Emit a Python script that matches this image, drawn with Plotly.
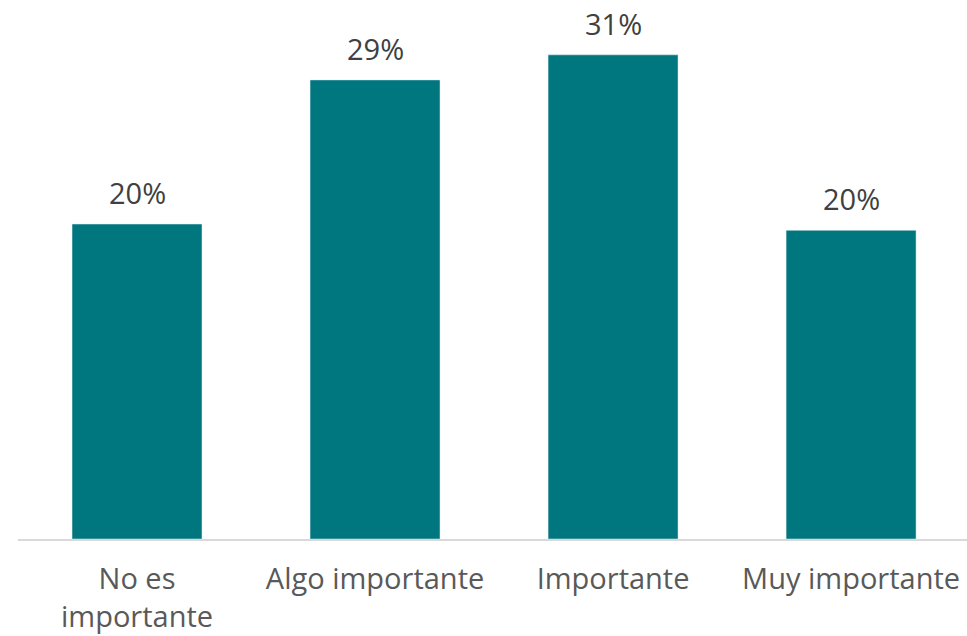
import plotly.graph_objects as go

categories = ["No es<br>importante", "Algo importante", "Importante", "Muy importante"]
shares = [0.201, 0.293, 0.309, 0.197]

fig = go.Figure(
    go.Bar(
        x=categories,
        y=shares,
        marker_color="#00767F",
        cliponaxis=False,
    )
)

# value labels above each bar
for cat, val in zip(categories, shares):
    fig.add_annotation(
        x=cat,
        y=val,
        text=f"{val:.0%}",
        showarrow=False,
        yanchor="bottom",
        yshift=10,
        font=dict(family="Open Sans", size=29, color="#404040"),
    )

fig.update_layout(
    width=967,
    height=636,
    margin=dict(l=18, r=0, t=0, b=97),
    paper_bgcolor="white",
    plot_bgcolor="white",
    bargap=0.454,
    showlegend=False,
    font=dict(family="Open Sans", color="#595959"),
)
fig.update_xaxes(
    range=[-0.5, 3.487],
    automargin=False,
    showline=True,
    linecolor="#D9D9D9",
    linewidth=2,
    tickfont=dict(family="Open Sans", size=29, color="#595959"),
    ticks="outside",
    ticklen=13,
    tickcolor="rgba(0,0,0,0)",
)
fig.update_yaxes(visible=False, range=[0, 0.344])

fig.write_html("out.html")
